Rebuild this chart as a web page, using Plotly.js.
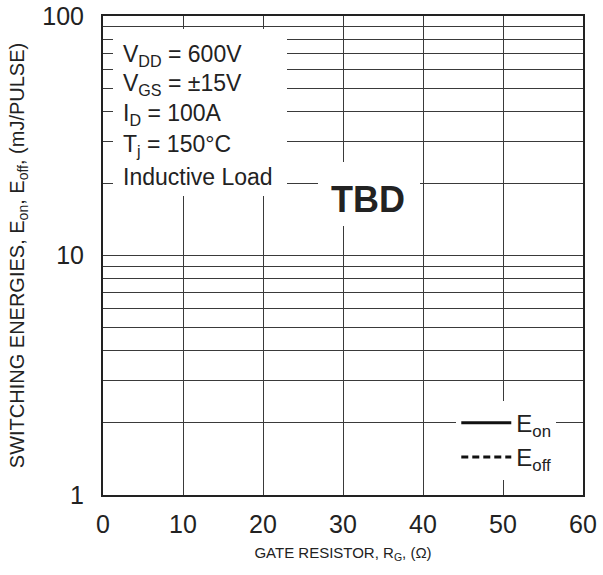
<!DOCTYPE html>
<html>
<head>
<meta charset="utf-8">
<script src="https://cdn.plot.ly/plotly-3.0.1.min.js"></script>
<style>html,body{margin:0;padding:0;background:#fff}#chart{width:603px;height:575px}</style>
</head>
<body>
<div id="chart"></div>
<script>
// Data (chart is "TBD": no curves yet, series hold no measured points)
const seriesNames = ['E<sub>on</sub>', 'E<sub>off</sub>'];
const eonX = [null], eonY = [null];
const eoffX = [null], eoffY = [null];
const xTickVals = [0, 10, 20, 30, 40, 50, 60];
const yTickVals = [1, 10, 100];
const yTickText = ['1', '10', '100'];
const yMinorVals = [2, 3, 4, 5, 6, 7, 8, 9, 20, 30, 40, 50, 60, 70, 80, 90];
const conditions = ['V<sub>DD</sub> = 600V', 'V<sub>GS</sub> = ±15V', 'I<sub>D</sub> = 100A', 'T<sub>j</sub> = 150°C', 'Inductive Load'];

const FONT = 'Liberation Sans, Arial, Helvetica, sans-serif';
const gridColor = '#3a3a3a';

const traces = [
  {x: eonX, y: eonY, name: seriesNames[0], type: 'scatter', mode: 'lines', showlegend: true, line: {color: '#111', width: 3, dash: 'solid'}},
  {x: eoffX, y: eoffY, name: seriesNames[1], type: 'scatter', mode: 'lines', showlegend: true, line: {color: '#111', width: 3, dash: '7px,4px'}}
];

const condY = [0.918, 0.857, 0.794, 0.729, 0.664];
const annotations = [
  {xref: 'paper', yref: 'paper', x: 0.021, y: 0.973, xanchor: 'left', yanchor: 'top', text: ' ', showarrow: false,
   bgcolor: '#fff', width: 174, height: 167, borderpad: 0, borderwidth: 0},
  {xref: 'paper', yref: 'paper', x: 0.448, y: 0.695, xanchor: 'left', yanchor: 'top', text: ' ', showarrow: false,
   bgcolor: '#fff', width: 102, height: 64, borderpad: 0, borderwidth: 0},
  {xref: 'paper', yref: 'paper', x: 0.553, y: 0.617, xanchor: 'center', yanchor: 'middle', text: '<b>TBD</b>', showarrow: false,
   font: {family: FONT, size: 36, color: '#222'}}
];
conditions.forEach((t, i) => {
  annotations.push({xref: 'paper', yref: 'paper', x: 0.038, y: condY[i], xanchor: 'left', yanchor: 'middle',
    text: t, showarrow: false, font: {family: FONT, size: 23, color: '#222'}});
});

const layout = {
  width: 603, height: 575,
  margin: {l: 103, r: 20, t: 16, b: 80, pad: 0},
  paper_bgcolor: '#fff', plot_bgcolor: '#fff',
  font: {family: FONT, color: '#222'},
  showlegend: true,
  legend: {x: 0.736, y: 0.197, xanchor: 'left', yanchor: 'top', bgcolor: '#fff', borderwidth: 0,
    font: {family: FONT, size: 24, color: '#222'}, tracegroupgap: 0, itemwidth: 50},
  xaxis: {
    range: [0, 60], tickvals: xTickVals, showgrid: true, gridcolor: gridColor, gridwidth: 1,
    zeroline: false, showline: true, mirror: true, linecolor: '#222', linewidth: 2,
    ticks: 'outside', ticklen: 6, tickcolor: 'rgba(0,0,0,0)',
    tickfont: {family: FONT, size: 25, color: '#222'},
    title: {text: 'GATE RESISTOR, R<sub>G</sub>, (Ω)', font: {family: FONT, size: 15, color: '#222'}, standoff: 10}
  },
  yaxis: {
    type: 'log', range: [0, 2], tickvals: yTickVals, ticktext: yTickText, showgrid: true, gridcolor: gridColor, gridwidth: 1,
    minor: {tickvals: yMinorVals, showgrid: true, gridcolor: gridColor, gridwidth: 1, ticks: ''},
    zeroline: false, showline: true, mirror: true, linecolor: '#222', linewidth: 2,
    ticks: 'outside', ticklen: 12, tickcolor: 'rgba(0,0,0,0)',
    tickfont: {family: FONT, size: 25, color: '#222'},
    title: {text: 'SWITCHING ENERGIES, E<sub>on</sub>, E<sub>off</sub>, (mJ/PULSE)', font: {family: FONT, size: 20, color: '#222'}, standoff: 12}
  },
  annotations: annotations
};

Plotly.newPlot('chart', traces, layout, {staticPlot: true, displayModeBar: false});
</script>
</body>
</html>
